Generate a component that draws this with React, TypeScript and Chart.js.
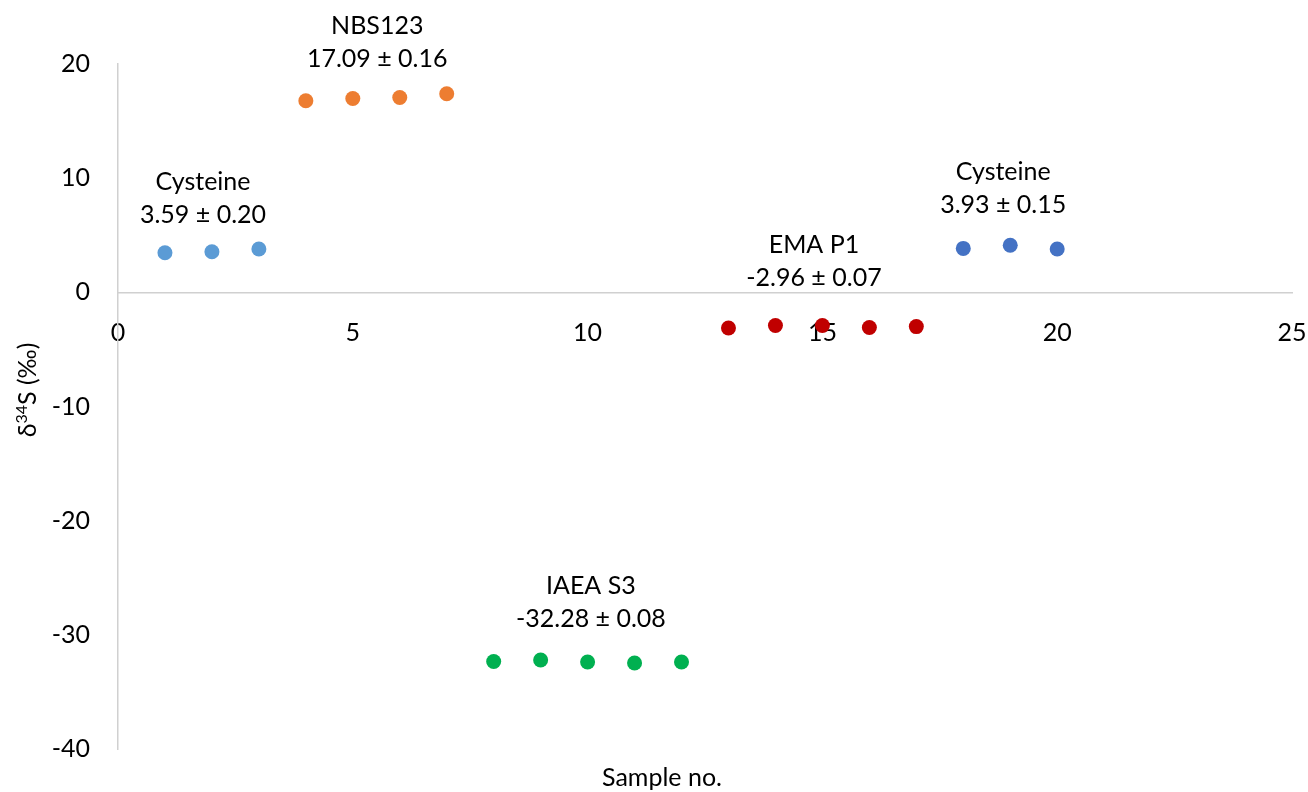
import React, { useEffect, useRef } from "react";
import { Chart, registerables } from "chart.js";

Chart.register(...registerables);

// Data (sample number, δ34S ‰)
const cysteineAX = [1, 2, 3];
const cysteineAY = [3.47, 3.55, 3.79];
const nbs123X = [4, 5, 6, 7];
const nbs123Y = [16.78, 16.98, 17.06, 17.4];
const iaeaS3X = [8, 9, 10, 11, 12];
const iaeaS3Y = [-32.33, -32.2, -32.38, -32.47, -32.38];
const emaP1X = [13, 14, 15, 16, 17];
const emaP1Y = [-3.13, -2.9, -2.9, -3.08, -3.0];
const cysteineBX = [18, 19, 20];
const cysteineBY = [3.85, 4.12, 3.79];

const xTicks = [0, 5, 10, 15, 20, 25];
const yTicks = [-40, -30, -20, -10, 0, 10, 20];

// group annotations: [line1, line2], anchored in data units (centre of line 2)
const groupLabels = [
  { lines: ["Cysteine", "3.59 ± 0.20"], x: 1.81, y: 6.77 },
  { lines: ["NBS123", "17.09 ± 0.16"], x: 5.52, y: 20.43 },
  { lines: ["IAEA S3", "-32.28 ± 0.08"], x: 10.07, y: -28.6 },
  { lines: ["EMA P1", "-2.96 ± 0.07"], x: 14.82, y: 1.3 },
  { lines: ["Cysteine", "3.93 ± 0.15"], x: 18.85, y: 7.69 },
];

const FONT = "Lato, 'Open Sans', sans-serif";
const FONT_SIZE = 25;

function pts(xs: number[], ys: number[]) {
  return xs.map((x, i) => ({ x, y: ys[i] }));
}

const annotationPlugin = {
  id: "annotations",
  afterDraw(chart: any) {
    const ctx = chart.ctx;
    const xs = chart.scales.x;
    const ys = chart.scales.y;
    ctx.save();
    ctx.fillStyle = "#000000";
    ctx.font = `${FONT_SIZE}px ${FONT}`;
    ctx.textAlign = "center";
    ctx.textBaseline = "middle";
    groupLabels.forEach((g) => {
      const px = xs.getPixelForValue(g.x);
      const py = ys.getPixelForValue(g.y);
      ctx.fillText(g.lines[0], px, py - 33);
      ctx.fillText(g.lines[1], px, py);
    });
    // x axis title
    ctx.fillText("Sample no.", 662, 778);
    // y axis title with superscript
    ctx.translate(27, 390);
    ctx.rotate(-Math.PI / 2);
    const part1 = "δ";
    const sup = "34";
    const part2 = "S (‰)";
    ctx.font = `${FONT_SIZE}px ${FONT}`;
    const w1 = ctx.measureText(part1).width;
    const w3 = ctx.measureText(part2).width;
    ctx.font = `${Math.round(FONT_SIZE * 0.65)}px ${FONT}`;
    const w2 = ctx.measureText(sup).width;
    const total = w1 + w2 + w3;
    let cx = -total / 2;
    ctx.textAlign = "left";
    ctx.textBaseline = "alphabetic";
    ctx.font = `${FONT_SIZE}px ${FONT}`;
    ctx.fillText(part1, cx, 9);
    cx += w1;
    ctx.font = `${Math.round(FONT_SIZE * 0.65)}px ${FONT}`;
    ctx.fillText(sup, cx, 0);
    cx += w2;
    ctx.font = `${FONT_SIZE}px ${FONT}`;
    ctx.fillText(part2, cx, 9);
    ctx.restore();
  },
};

export default function App() {
  const canvasRef = useRef<HTMLCanvasElement>(null);

  useEffect(() => {
    if (!canvasRef.current) return;
    const mk = (data: any[], color: string) => ({
      data,
      backgroundColor: color,
      borderColor: color,
      pointRadius: 7.5,
      pointHoverRadius: 7.5,
      borderWidth: 0,
      showLine: false,
    });
    const chart = new Chart(canvasRef.current, {
      type: "scatter",
      data: {
        datasets: [
          mk(pts(cysteineAX, cysteineAY), "#5B9BD5"),
          mk(pts(nbs123X, nbs123Y), "#ED7D31"),
          mk(pts(iaeaS3X, iaeaS3Y), "#00B050"),
          mk(pts(emaP1X, emaP1Y), "#C00000"),
          mk(pts(cysteineBX, cysteineBY), "#4472C4"),
        ],
      },
      options: {
        animation: false,
        responsive: false,
        maintainAspectRatio: false,
        layout: { padding: { left: 0, top: 64, right: 16, bottom: 43 } },
        plugins: {
          legend: { display: false },
          tooltip: { enabled: false },
        },
        scales: {
          x: {
            type: "linear",
            position: { y: 0 } as any,
            min: 0,
            max: 25,
            afterFit: (s: any) => {
              s.height = 0;
              s.paddingLeft = 0;
              s.paddingRight = 0;
            },
            afterBuildTicks: (s: any) => {
              s.ticks = xTicks.map((v) => ({ value: v }));
            },
            grid: { display: false, drawTicks: false },
            border: { display: true, color: "#D0D0D0", width: 1.5 },
            ticks: {
              color: "#000000",
              font: { family: FONT, size: FONT_SIZE },
              padding: 26,
              maxRotation: 0,
            },
          },
          y: {
            type: "linear",
            position: "left",
            min: -40,
            max: 20,
            afterFit: (s: any) => {
              s.width = 118;
              s.paddingTop = 0;
              s.paddingBottom = 0;
            },
            afterBuildTicks: (s: any) => {
              s.ticks = yTicks.map((v) => ({ value: v }));
            },
            grid: { display: false, drawTicks: false },
            border: { display: true, color: "#D0D0D0", width: 1.5 },
            ticks: {
              color: "#000000",
              font: { family: FONT, size: FONT_SIZE },
              padding: 28,
            },
          },
        },
      },
      plugins: [annotationPlugin],
    });
    return () => chart.destroy();
  }, []);

  return (
    <div
      style={{
        position: "absolute",
        left: 0,
        top: 0,
        width: 1308,
        height: 792,
        background: "#ffffff",
      }}
    >
      <canvas ref={canvasRef} width={1308} height={792} style={{ width: 1308, height: 792 }} />
    </div>
  );
}
